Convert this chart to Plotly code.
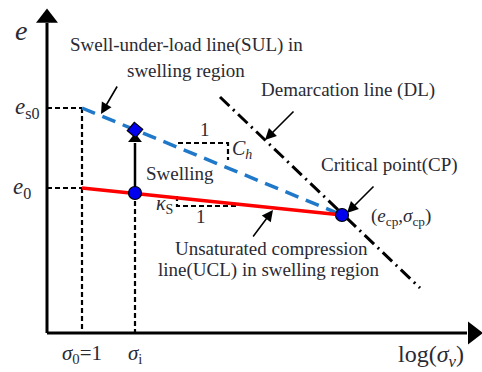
import plotly.graph_objects as go

# Schematic coordinates: x = log(sigma) (arbitrary units), y = void ratio e (arbitrary units)
sigma0 = 3.5
sigma_i = 8.8
sigma_cp = 29.5
e_s0 = 22.5
e_0 = 14.5
e_i = 14.0
e_cp = 11.8
e_swell = 20.3
e_arrow_tip = 20.0

sul_x = [sigma0, sigma_cp]
sul_y = [e_s0, e_cp]
ucl_x = [sigma0, sigma_cp]
ucl_y = [e_0, e_cp]
dl_x = [17.3, 37.3]
dl_y = [23.6, 4.5]
ch_tri_x = [13.1, 18.1, 18.1]
ch_tri_y = [19.0, 19.0, 17.3]
ks_tri_x = [13.0, 13.0, 19.0]
ks_tri_y = [13.7, 12.7, 12.7]
x_axis_end = 42.0
y_axis_end = 31.0

FONT = "Liberation Serif, Times New Roman, DejaVu Serif, serif"
TXT = "#2a2a33"

fig = go.Figure()

def line(x, y, color="black", width=2, dash=None):
    fig.add_trace(go.Scatter(x=x, y=y, mode="lines",
                             line=dict(color=color, width=width, dash=dash),
                             hoverinfo="skip", showlegend=False))

# axes
line([0, 0], [0, y_axis_end], width=3)
line([0, x_axis_end], [0, 0], width=3)
fig.add_trace(go.Scatter(x=[0], y=[y_axis_end + 0.5], mode="markers",
                         marker=dict(symbol="triangle-up", size=19, color="black"),
                         hoverinfo="skip", showlegend=False))
fig.add_trace(go.Scatter(x=[x_axis_end + 0.6], y=[0], mode="markers",
                         marker=dict(symbol="triangle-right", size=20, color="black"),
                         hoverinfo="skip", showlegend=False))

# guide lines
g = dict(width=2.2, dash="5px,3px")
line([0, sigma0], [e_s0, e_s0], **g)
line([sigma0, sigma0], [e_s0, 0], **g)
line([0, sigma0], [e_0, e_0], **g)
line([sigma_i, sigma_i], [e_i, 0], **g)
line(ch_tri_x, ch_tri_y, **g)
line(ks_tri_x, ks_tri_y, **g)

# demarcation line
line(dl_x, dl_y, color="black", width=3, dash="13px,5px,2px,5px")
# SUL
line(sul_x, sul_y, color="#1f78c8", width=3.5, dash="14px,8px")
# UCL
line(ucl_x, ucl_y, color="#ff0000", width=3.5)

# swelling arrow
line([sigma_i, sigma_i], [e_i, e_arrow_tip - 1.0], width=2.5)
fig.add_trace(go.Scatter(x=[sigma_i], y=[e_arrow_tip - 0.6], mode="markers",
                         marker=dict(symbol="triangle-up", size=12, color="black"),
                         hoverinfo="skip", showlegend=False))

# points
fig.add_trace(go.Scatter(x=[sigma_i, sigma_cp], y=[e_i, e_cp], mode="markers",
                         marker=dict(symbol="circle", size=13, color="#0000ee",
                                     line=dict(color="black", width=1.2)),
                         hoverinfo="skip", showlegend=False))
fig.add_trace(go.Scatter(x=[sigma_i], y=[e_swell], mode="markers",
                         marker=dict(symbol="square", size=11, angle=40, color="#0000ee",
                                     line=dict(color="black", width=1.2)),
                         hoverinfo="skip", showlegend=False))

def text(x, y, s, size=19, xanchor="center", color=TXT):
    fig.add_annotation(x=x, y=y, text=s, showarrow=False, xanchor=xanchor,
                       yanchor="middle", font=dict(family=FONT, size=size, color=color))

def arrow(x, y, ax, ay):
    fig.add_annotation(x=x, y=y, ax=ax, ay=ay, xref="x", yref="y", axref="x", ayref="y",
                       text="", showarrow=True, arrowhead=2, arrowsize=1.4,
                       arrowwidth=1.6, arrowcolor="black")

text(-2.6, 30.3, "<i>e</i>", size=28)
text(-2.0, e_s0, "<i>e</i><sub>s0</sub>", size=23)
text(-2.5, e_0, "<i>e</i><sub>0</sub>", size=23)
text(sigma0, -2.1, "<i>σ</i><sub>0</sub>=1", size=21)
text(sigma_i, -2.1, "<i>σ</i><sub>i</sub>", size=21)
text(38.4, -2.3, "log(<i>σ<sub>v</sub></i>)", size=24)

text(13.9, 28.8, "Swell-under-load line(SUL) in")
text(13.9, 26.3, "swelling region")
arrow(5.4, 21.9, 7.1, 24.8)

text(30.1, 24.3, "Demarcation line (DL)")
arrow(21.8, 19.3, 24.8, 22.3)

text(34.2, 16.8, "Critical point(CP)")
arrow(30.0, 12.0, 32.8, 14.8)
text(35.4, 11.6, "(<i>e</i><sub>cp</sub>,<i>σ</i><sub>cp</sub>)")

text(13.3, 16.0, "Swelling")
text(15.8, 20.4, "1")
text(19.5, 18.4, "<i>C<sub>h</sub></i>", size=20)
text(11.7, 12.9, "<i>κ</i><sub>S</sub>", size=20)
text(15.4, 11.7, "1")

text(22.4, 8.5, "Unsaturated compression")
text(22.2, 6.3, "line(UCL) in swelling region")
arrow(22.6, 12.3, 20.5, 9.5)

fig.update_layout(
    width=482, height=372, margin=dict(l=0, r=0, t=0, b=0),
    paper_bgcolor="white", plot_bgcolor="white",
    xaxis=dict(range=[-4.7, 43.5], visible=False, fixedrange=True),
    yaxis=dict(range=[-3.9, 33.3], visible=False, fixedrange=True),
    showlegend=False,
)
fig.write_html("out.html", config={"displayModeBar": False},
               post_script="document.body.style.margin='0px';")
